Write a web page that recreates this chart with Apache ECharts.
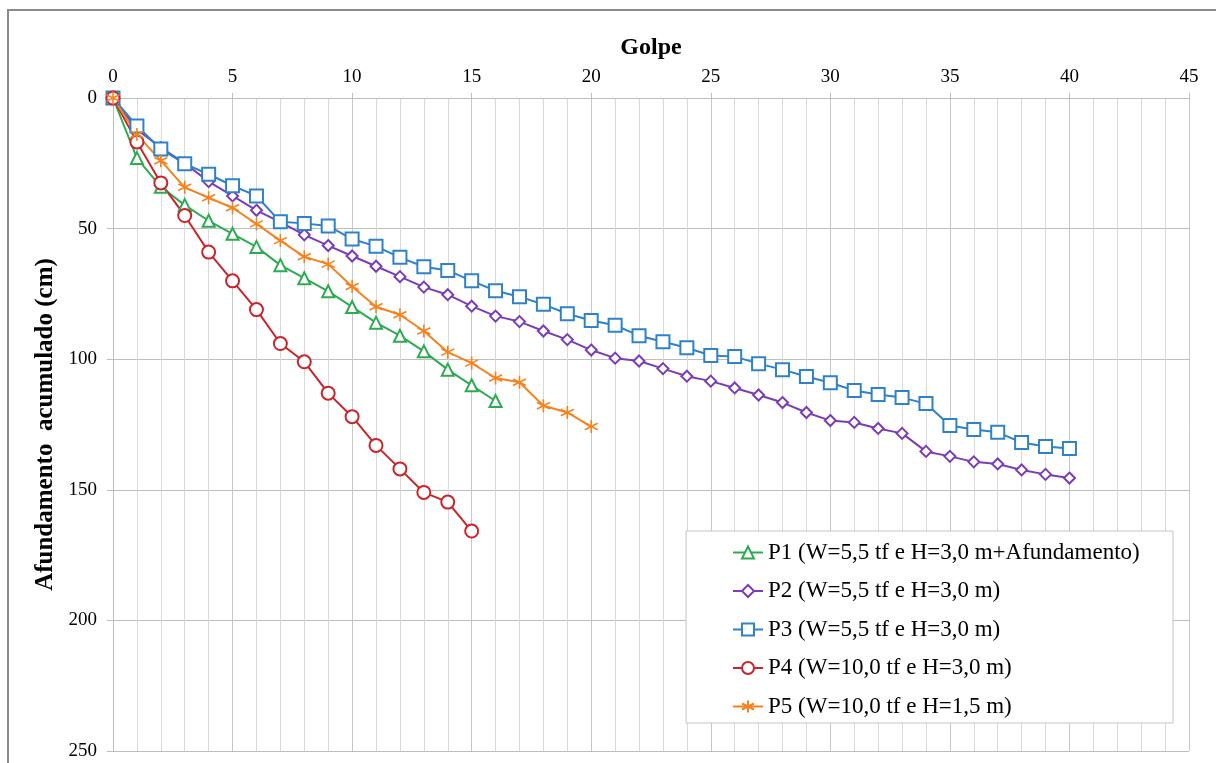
<!DOCTYPE html>
<html>
<head>
<meta charset="utf-8">
<script src="https://cdn.jsdelivr.net/npm/echarts@6/dist/echarts.min.js"></script>
<style>
  html, body { margin: 0; padding: 0; background: #fff; }
  #main { width: 1216px; height: 763px; }
</style>
</head>
<body>
<div id="main"></div>
<script>
// afundamento acumulado (cm) por golpe, índice = nº do golpe
var p1 = [0, 23, 34, 41, 47, 52, 57, 64, 69, 74, 80, 86, 91, 97, 104, 110, 116];
var p2 = [0, 12, 19, 25, 32, 37.5, 43, 47.5, 52.4, 56.5, 60.5, 64.4, 68.4, 72.4, 75.3, 79.7, 83.5,
  85.6, 89.2, 92.5, 96.5, 99.6, 100.7, 103.6, 106.5, 108.4, 111, 113.7, 116.6, 120.4, 123.5,
  124.2, 126.5, 128.4, 135.3, 137.2, 139.3, 140.1, 142.4, 144.1, 145.5];
var p3 = [0, 10.7, 19.5, 25.2, 29.2, 33.6, 37.5, 47.4, 48, 49, 54, 56.8, 61, 64.6, 66, 70, 73.8,
  76.1, 79, 82.6, 85.2, 87, 91, 93.3, 95.6, 98.6, 99, 101.7, 104, 106.6, 109, 112, 113.5,
  114.7, 117, 125.4, 126.9, 128, 131.9, 133.4, 134.2];
var p4 = [0, 16.8, 32.5, 45, 59, 70, 81, 94, 101, 113, 122, 133, 142, 151, 154.7, 165.8];
var p5 = [0, 14, 24, 34.2, 38.2, 42, 48.2, 54.6, 60.8, 63.6, 72.2, 79.9, 83, 89.2, 97.3, 101.5,
  107.2, 108.8, 117.8, 120.4, 125.8];

var names = [
  "P1 (W=5,5 tf e H=3,0 m+Afundamento)",
  "P2 (W=5,5 tf e H=3,0 m)",
  "P3 (W=5,5 tf e H=3,0 m)",
  "P4 (W=10,0 tf e H=3,0 m)",
  "P5 (W=10,0 tf e H=1,5 m)"
];
var colors = ["#2eaa52", "#7a3db5", "#2f82c8", "#c9252c", "#f4821f"];
var symbols = [
  "emptyTriangle",
  "emptyDiamond",
  "emptyRect",
  "emptyCircle",
  "path://M5,0L5,10M0.67,2.5L9.33,7.5M0.67,7.5L9.33,2.5"
];
var sizes = [12, 11, 13, 13, 13];

var font = "Liberation Serif";

function pares(arr) {
  return arr.map(function(v, i) { return [i, v]; });
}

var chart = echarts.init(document.getElementById("main"));

var series = [p1, p2, p3, p4, p5].map(function(d, k) {
  return {
    name: names[k],
    type: "line",
    data: pares(d),
    symbol: symbols[k],
    symbolSize: sizes[k],
    showAllSymbol: true,
    color: colors[k],
    lineStyle: { width: 2, color: colors[k] },
    itemStyle: { color: colors[k], borderColor: colors[k], borderWidth: 1.6 },
    emphasis: { disabled: true },
    animation: false
  };
});

chart.setOption({
  backgroundColor: "#fff",
  animation: false,
  textStyle: { fontFamily: font },
  graphic: [
    {
      type: "rect",
      z: -10,
      shape: { x: 8, y: 10, width: 1240, height: 780 },
      style: { fill: "none", stroke: "#8a8a8a", lineWidth: 2 }
    },
    {
      type: "rect",
      z: 3,
      shape: { x: 686, y: 531, width: 487, height: 192 },
      style: { fill: "#fff", stroke: "#c4c4c4", lineWidth: 1 }
    }
  ],
  grid: { left: 113, top: 98, width: 1076, height: 653 },
  legend: {
    orient: "vertical",
    left: 727,
    top: 536,
    itemWidth: 30,
    itemHeight: 15,
    itemGap: 15.5,
    z: 5,
    textStyle: { fontFamily: font, fontSize: 23, color: "#000" },
    data: names
  },
  xAxis: {
    type: "value",
    position: "top",
    min: 0,
    max: 45,
    interval: 5,
    name: "Golpe",
    nameLocation: "middle",
    nameGap: 38,
    nameTextStyle: { fontFamily: font, fontSize: 24, fontWeight: "bold", color: "#000" },
    axisLine: { show: true, lineStyle: { color: "#bdbdbd", width: 1 } },
    axisTick: { show: true, length: 5, lineStyle: { color: "#bdbdbd" } },
    axisLabel: { fontFamily: font, fontSize: 19, color: "#000", margin: 11 },
    splitLine: { show: true, lineStyle: { color: "#c6c6c6", width: 1 } },
    minorTick: { show: false, splitNumber: 5 },
    minorSplitLine: { show: true, lineStyle: { color: "#d9d9d9", width: 1 } }
  },
  yAxis: {
    type: "value",
    inverse: true,
    min: 0,
    max: 250,
    interval: 50,
    name: "Afundamento  acumulado (cm)",
    nameLocation: "middle",
    nameGap: 55,
    nameTextStyle: { fontFamily: font, fontSize: 25, fontWeight: "bold", color: "#000" },
    axisLine: { show: true, lineStyle: { color: "#bdbdbd", width: 1 } },
    axisTick: { show: true, length: 6, lineStyle: { color: "#bdbdbd" } },
    axisLabel: { fontFamily: font, fontSize: 19, color: "#000", margin: 16 },
    splitLine: { show: true, lineStyle: { color: "#bdbdbd", width: 1 } }
  },
  series: series
});
</script>
</body>
</html>
